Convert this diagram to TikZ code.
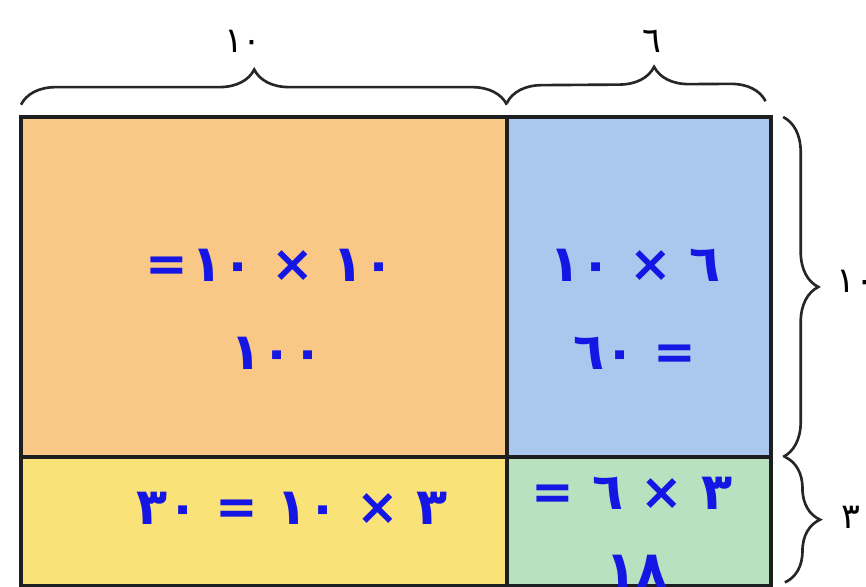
\documentclass[tikz,border=0pt]{standalone}
\usepackage{fontspec}
\newfontfamily\arabicfont[Script=Arabic]{DejaVu Sans}
\usetikzlibrary{decorations.pathreplacing}
\TeXXeTstate=1

\definecolor{cOrange}{RGB}{249,200,134}
\definecolor{cBlue}{RGB}{170,200,238}
\definecolor{cYellow}{RGB}{249,226,120}
\definecolor{cGreen}{RGB}{184,225,192}
\definecolor{ink}{RGB}{22,22,228}
\definecolor{edge}{RGB}{28,30,32}

\begin{document}
\begin{tikzpicture}[
  x=0.02cm, y=-0.02cm,
  cell/.style    = {draw=edge, line width=2.3pt, fill=#1, inner sep=0pt,
                    outer sep=0pt, anchor=north west},
  product/.style = {font=\arabicfont\bfseries\fontsize{29}{34}\selectfont,
                    text=ink, inner sep=0pt, anchor=base},
  dim/.style     = {font=\arabicfont\fontsize{20}{24}\selectfont,
                    inner sep=0pt, anchor=base},
  brace/.style   = {decorate, decoration={brace, amplitude=20pt, aspect=#1},
                    line width=1.5pt, draw=black!85},
  brace/.default = 0.5
]
\useasboundingbox[fill=white] (0,0) rectangle (866,587);

% ── Cells ─────────────────────────────────────────────────────────────────────
\node[cell=cOrange, minimum width=9.72cm, minimum height=6.8cm]  (hundred)  at (21,117) {};
\node[cell=cBlue,   minimum width=5.28cm, minimum height=6.8cm]  (sixty)    at (hundred.north east) {};
\node[cell=cYellow, minimum width=9.72cm, minimum height=2.58cm] (thirty)   at (hundred.south west) {};
\node[cell=cGreen,  minimum width=5.28cm, minimum height=2.58cm] (eighteen) at (hundred.south east) {};

% ── Products ──────────────────────────────────────────────────────────────────
\node[product] (hundredA)  at (270,282) {\beginR ١٠ × ١٠\kern2pt=\endR};
\node[product] (hundredB)  at (277,370) {١٠٠};
\node[product] (sixtyA)    at (635,282) {\beginR ٦ × ١٠\endR};
\node[product] (sixtyB)    at (635,370) {\beginR = ٦٠\endR};
\node[product] (thirtyA)   at (292,525) {\beginR ٣ × ١٠ = ٣٠\endR};
\node[product] (eighteenA) at (632,510) {\beginR ٣ × ٦ =\endR};
\node[product] (eighteenB) at (637,587) {١٨};

% ── Braces ────────────────────────────────────────────────────────────────────
\draw[brace=0.48] ([yshift=7pt]hundred.north west) -- ([yshift=7pt]hundred.north east);
\draw[brace=0.57] ([yshift=8pt]sixty.north west) -- ([xshift=-3pt, yshift=9pt]sixty.north east);
\draw[brace=0.5]  ([xshift=7pt]sixty.north east) -- ([xshift=7pt]sixty.south east);
\draw[brace=0.5]  ([xshift=8pt]eighteen.north east) -- ([xshift=8pt, yshift=2pt]eighteen.south east);

% ── Side lengths ──────────────────────────────────────────────────────────────
\node[dim] (topTen)   at (243,53) {١٠};
\node[dim] (topSix)   at (652,53) {٦};
\node[dim, anchor=base west] (sideTen) at (836,293) {١٠};
\node[dim] (sideThree) at (851,529) {٣};

\end{tikzpicture}
\end{document}
